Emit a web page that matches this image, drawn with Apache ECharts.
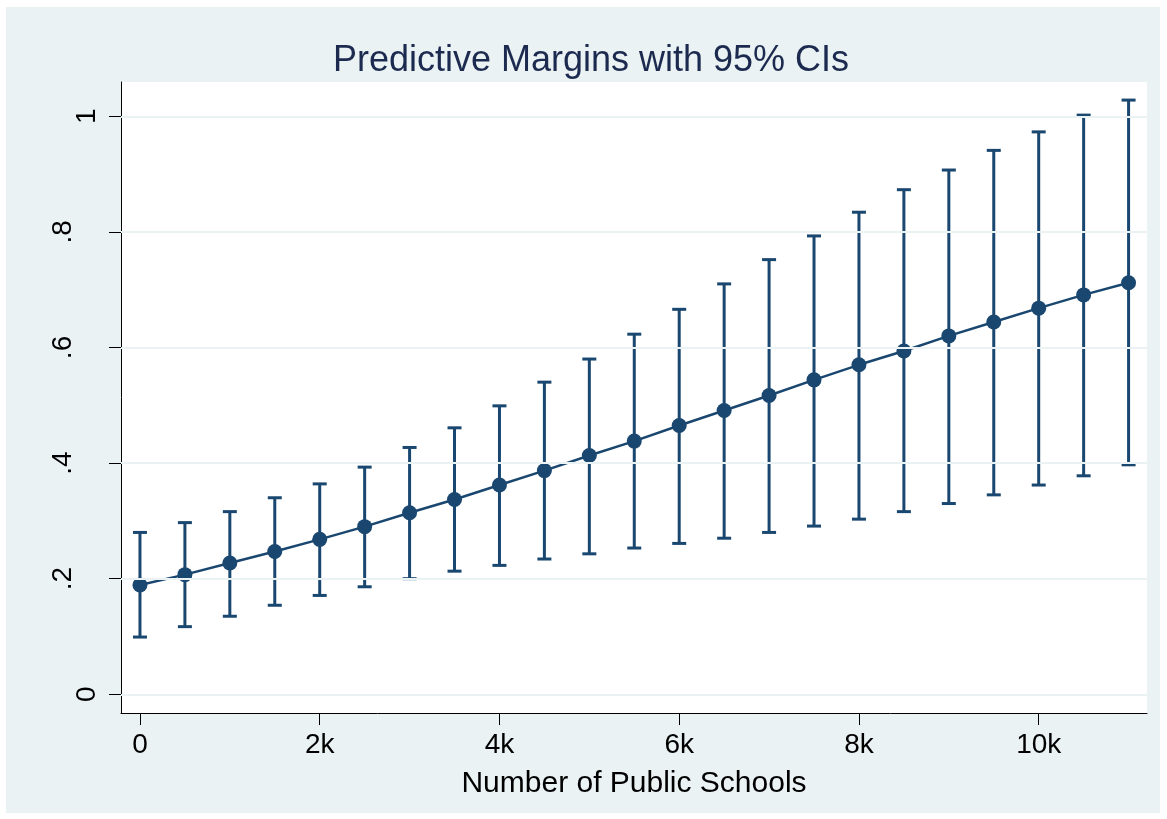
<!DOCTYPE html>
<html>
<head>
<meta charset="utf-8">
<script src="https://cdn.jsdelivr.net/npm/echarts@6/dist/echarts.min.js"></script>
<style>
  html, body { margin: 0; padding: 0; background: #ffffff; }
  #wrap { position: relative; width: 1167px; height: 819px; }
  #bg { position: absolute; left: 6px; top: 7px; width: 1154px; height: 806px; background: #eaf2f3; }
  #chart { position: absolute; left: 0; top: 0; width: 1167px; height: 819px; }
</style>
</head>
<body>
<div id="wrap"><div id="bg"></div><div id="chart"></div></div>
<script>
// ---- data ----
const schools = [0, 500, 1000, 1500, 2000, 2500, 3000, 3500, 4000, 4500, 5000, 5500,
                 6000, 6500, 7000, 7500, 8000, 8500, 9000, 9500, 10000, 10500, 11000];
const margin = [0.189, 0.207, 0.227, 0.247, 0.268, 0.290, 0.314, 0.337, 0.362, 0.387, 0.413, 0.438,
                0.465, 0.491, 0.517, 0.544, 0.570, 0.594, 0.620, 0.644, 0.668, 0.691, 0.712];
const ciLower = [0.099, 0.117, 0.135, 0.154, 0.171, 0.186, 0.200, 0.213, 0.223, 0.234, 0.243, 0.253,
                 0.261, 0.270, 0.280, 0.291, 0.303, 0.316, 0.330, 0.345, 0.362, 0.378, 0.397];
const ciUpper = [0.280, 0.297, 0.316, 0.340, 0.364, 0.393, 0.427, 0.461, 0.499, 0.540, 0.580, 0.623,
                 0.666, 0.710, 0.752, 0.793, 0.834, 0.873, 0.907, 0.941, 0.973, 1.002, 1.028];
const xTickValues = [0, 2000, 4000, 6000, 8000, 10000];
const xTickLabels = ['0', '2k', '4k', '6k', '8k', '10k'];
const yTickValues = [0, 0.2, 0.4, 0.6, 0.8, 1];
const yTickLabels = ['0', '.2', '.4', '.6', '.8', '1'];
const titleText = 'Predictive Margins with 95% CIs';
const xTitle = 'Number of Public Schools';

// ---- styling ----
const NAVY = '#1a476f';
const FONT = 'Liberation Sans, Arial, Helvetica, sans-serif';

const chart = echarts.init(document.getElementById('chart'), null, { renderer: 'canvas' });

const ciData = schools.map((x, i) => [x, ciLower[i], ciUpper[i]]);
const lineData = schools.map((x, i) => [x, margin[i]]);

function yLabelFmt(v) {
  const idx = yTickValues.findIndex(t => Math.abs(t - v) < 1e-9);
  const s = idx >= 0 ? yTickLabels[idx] : '';
  return s.charAt(0) === '.' ? '{d|' + s + '}' : '{w|' + s + '}';
}
function xLabelFmt(v) {
  const idx = xTickValues.findIndex(t => Math.abs(t - v) < 1e-6);
  return idx >= 0 ? xTickLabels[idx] : '';
}

const option = {
  backgroundColor: 'transparent',
  animation: false,
  title: {
    text: titleText,
    left: 591,
    top: 43,
    padding: 0,
    textAlign: 'center',
    textStyle: { fontFamily: FONT, fontSize: 36, fontWeight: 'normal', color: '#1c2a4f' }
  },
  grid: {
    left: 121, top: 82, width: 1026, height: 631,
    show: true, backgroundColor: '#ffffff', borderWidth: 0,
    containLabel: false
  },
  xAxis: {
    type: 'value',
    min: -211, max: 11205,
    name: xTitle,
    nameLocation: 'middle',
    nameGap: 56,
    nameTextStyle: { fontFamily: FONT, fontSize: 30, color: '#000' },
    axisLine: { show: true, onZero: false, lineStyle: { color: '#000', width: 1 } },
    axisTick: { show: true, length: 12, customValues: xTickValues, lineStyle: { color: '#000', width: 1 } },
    axisLabel: {
      customValues: xTickValues,
      formatter: xLabelFmt,
      margin: 18,
      fontFamily: FONT, fontSize: 28, color: '#000'
    },
    splitLine: { show: false }
  },
  yAxis: {
    type: 'value',
    min: -0.0324, max: 1.0593,
    axisLine: { show: true, onZero: false, lineStyle: { color: '#000', width: 1 } },
    axisTick: { show: true, length: 12, customValues: yTickValues, lineStyle: { color: '#000', width: 1 } },
    axisLabel: {
      customValues: yTickValues,
      rotate: 90,
      margin: 20,
      formatter: yLabelFmt,
      rich: {
        w: { fontFamily: FONT, fontSize: 28, color: '#000' },
        d: { fontFamily: FONT, fontSize: 28, color: '#000', padding: [0, 0, 24, 0] }
      }
    },
    splitLine: { show: false }
  },
  series: [
    {
      // horizontal gridlines at the y ticks
      type: 'line',
      data: [],
      silent: true,
      markLine: {
        silent: true,
        symbol: ['none', 'none'],
        label: { show: false },
        lineStyle: { color: '#eaf2f3', width: 2, type: 'solid' },
        data: yTickValues.map(v => ({ yAxis: v }))
      },
      z: 1
    },
    {
      type: 'custom',
      data: ciData,
      z: 3,
      renderItem: function (params, api) {
        const x = api.value(0);
        const lo = api.coord([x, api.value(1)]);
        const hi = api.coord([x, api.value(2)]);
        const hw = 7;
        const st = { stroke: NAVY, lineWidth: 3 };
        return {
          type: 'group',
          children: [
            { type: 'line', shape: { x1: lo[0], y1: lo[1], x2: hi[0], y2: hi[1] }, style: st },
            { type: 'line', shape: { x1: lo[0] - hw, y1: lo[1], x2: lo[0] + hw, y2: lo[1] }, style: st },
            { type: 'line', shape: { x1: hi[0] - hw, y1: hi[1], x2: hi[0] + hw, y2: hi[1] }, style: st }
          ]
        };
      }
    },
    {
      type: 'line',
      data: lineData,
      z: 4,
      symbol: 'circle',
      symbolSize: 15,
      showSymbol: true,
      lineStyle: { color: NAVY, width: 2.5 },
      itemStyle: { color: NAVY, borderWidth: 0 }
    }
  ]
};

chart.setOption(option);
</script>
</body>
</html>
